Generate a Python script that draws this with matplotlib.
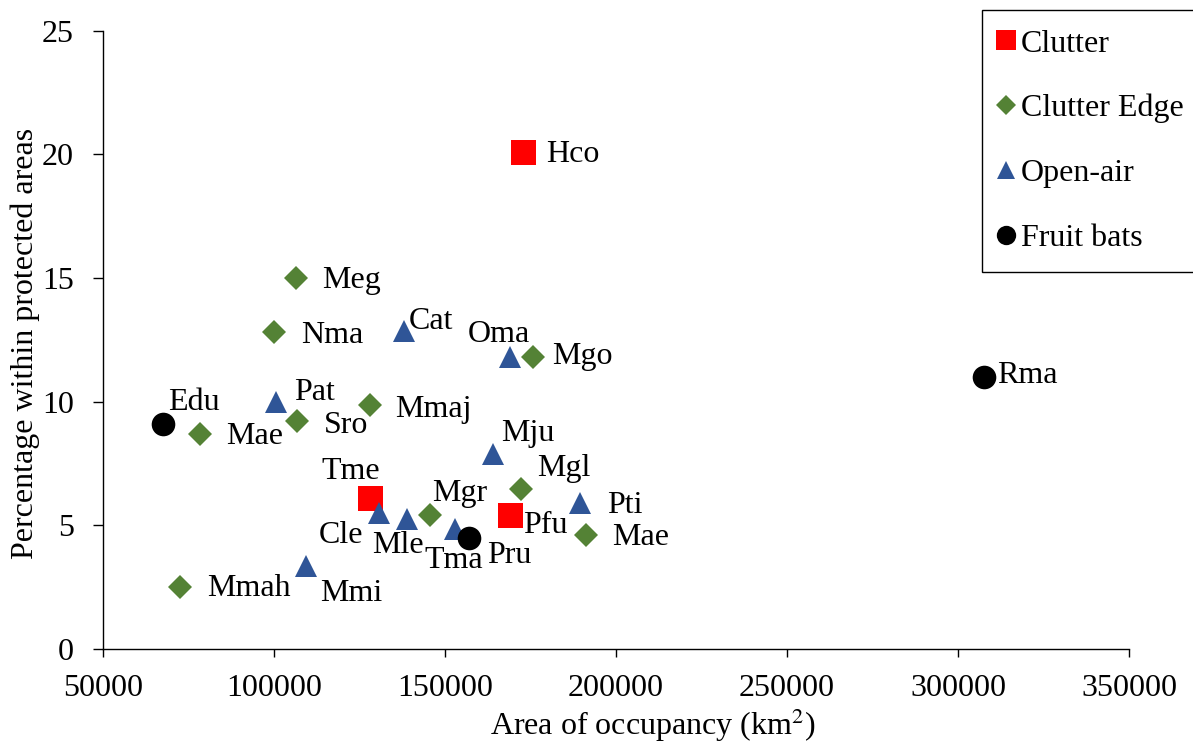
import matplotlib as mpl
import matplotlib.pyplot as plt
from matplotlib.ticker import FormatStrFormatter


mpl.rcParams['font.family'] = 'Liberation Serif'
mpl.rcParams['mathtext.fontset'] = 'stix'
mpl.rcParams['font.size'] = 23

# species per foraging guild: label, area of occupancy (km2), % within protected areas
clutter_names = ['Hco', 'Tme', 'Pfu']
clutter_area = [172800, 128200, 169000]
clutter_pct = [20.1, 6.1, 5.4]

edge_names = ['Meg', 'Nma', 'Mgo', 'Mae', 'Sro', 'Mmaj', 'Mgr', 'Mgl', 'Mae', 'Mmah']
edge_area = [106300, 100100, 175700, 78300, 106800, 128100, 145600, 172200, 191100, 72500]
edge_pct = [15.0, 12.8, 11.8, 8.7, 9.2, 9.85, 5.4, 6.45, 4.6, 2.5]

open_names = ['Cat', 'Oma', 'Pat', 'Cle', 'Mle', 'Tma', 'Mju', 'Pti', 'Mmi']
open_area = [138000, 169100, 100500, 130600, 138800, 152900, 163900, 189500, 109400]
open_pct = [12.85, 11.8, 10.0, 5.5, 5.25, 4.85, 7.9, 5.9, 3.35]

fruit_names = ['Edu', 'Rma', 'Pru']
fruit_area = [67500, 307500, 157000]
fruit_pct = [9.1, 11.0, 4.5]

x_ticks = [50000, 100000, 150000, 200000, 250000, 300000, 350000]
y_ticks = [0, 5, 10, 15, 20, 25]

# label offsets (pixels, x right / y up) from each marker to the text baseline start
label_offsets = {
    'Hco': (23, -10), 'Tme': (-49, 19), 'Pfu': (13, -18),
    'Meg': (27, -10), 'Nma': (27, -11), 'Mgo': (19, -7), 'Mae': (26, -10),
    'Sro': (27, -12), 'Mmaj': (25, -12), 'Mgr': (2, 14), 'Mgl': (16, 13),
    'Mae2': (27, -10), 'Mmah': (27, -9),
    'Cat': (5, 2), 'Oma': (-43, 15), 'Pat': (18, 2), 'Cle': (-60, -30),
    'Mle': (-35, -34), 'Tma': (-30, -39), 'Mju': (9, 13), 'Pti': (27, -10),
    'Mmi': (14, -35),
    'Edu': (5, 14), 'Rma': (13, -6), 'Pru': (18, -25),
}

groups = [
    ('Clutter', clutter_names, clutter_area, clutter_pct, 's', '#FF0000', 18),
    ('Clutter Edge', edge_names, edge_area, edge_pct, 'D', '#548235', 11.9),
    ('Open-air', open_names, open_area, open_pct, '^', '#2F5597', 16.5),
    ('Fruit bats', fruit_names, fruit_area, fruit_pct, 'o', '#000000', 17),
]

fig = plt.figure(figsize=(11.93, 7.42), dpi=100)
ax = fig.add_axes([103 / 1193, 1 - 649 / 742, 1026 / 1193, 618.3 / 742])

for label, names, area, pct, marker, color, size in groups:
    ax.plot(area, pct, linestyle='none', marker=marker, markersize=size,
            color=color, markeredgewidth=0, label=label, clip_on=False)
    seen = set()
    for name, x, y in zip(names, area, pct):
        key = name + '2' if name in seen else name
        seen.add(name)
        dx, dy = label_offsets[key]
        ax.annotate(name, (x, y), xytext=(dx, dy), textcoords='offset pixels',
                    ha='left', va='baseline')

ax.set_xlim(50000, 350000)
ax.set_ylim(0, 25)
ax.set_xticks(x_ticks)
ax.set_yticks(y_ticks)
ax.xaxis.set_major_formatter(FormatStrFormatter('%d'))

for side in ['top', 'right']:
    ax.spines[side].set_visible(False)
for side in ['left', 'bottom']:
    ax.spines[side].set_linewidth(1.0)
ax.tick_params(axis='x', direction='out', length=5.8, width=1.0, pad=12)
ax.tick_params(axis='y', direction='out', length=7, width=1.0, pad=14)

ax.set_xlabel('Area of occupancy (km$^2$)', va='baseline')
ax.xaxis.set_label_coords(653 / 1193, 1 - 735 / 742, transform=fig.transFigure)
ax.set_ylabel('Percentage within protected areas', va='baseline')
ax.yaxis.set_label_coords(33 / 1193, 1 - 343.5 / 742, transform=fig.transFigure)

leg = ax.legend(loc='upper left', bbox_to_anchor=(982 / 1193, 1 - 10 / 742),
                bbox_transform=fig.transFigure, borderaxespad=0, fancybox=False,
                edgecolor='black', framealpha=1, markerscale=0.82,
                handlelength=0.3, handletextpad=0.32, borderpad=0.6,
                labelspacing=1.11)
leg.get_frame().set_linewidth(1.0)

fig.savefig('out.png', dpi=100)
